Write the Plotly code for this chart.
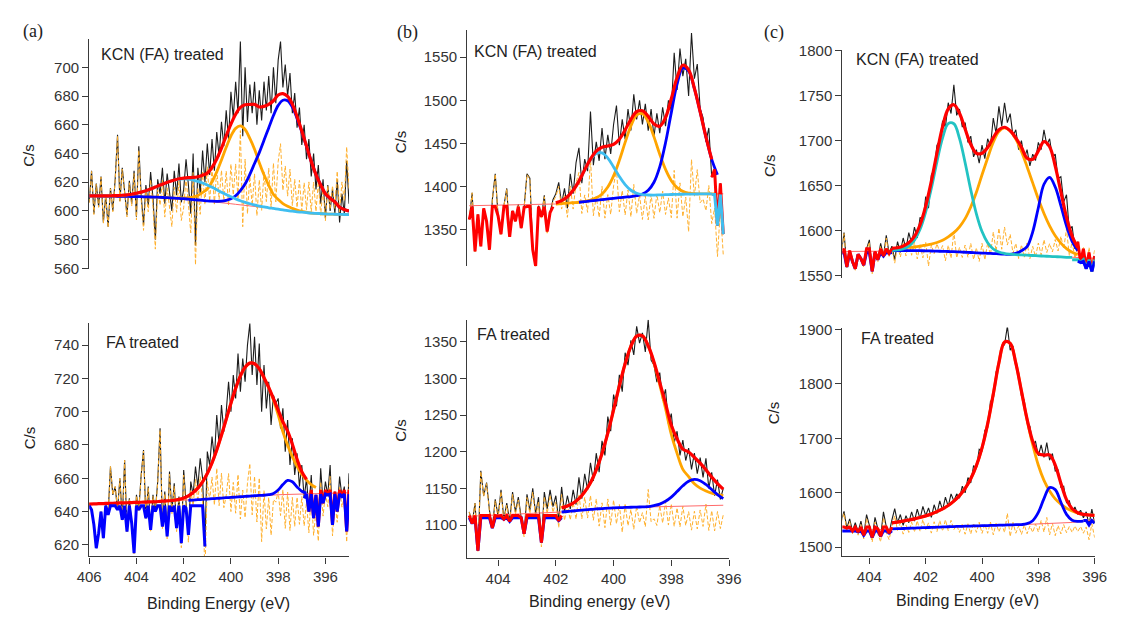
import numpy as np
import plotly.graph_objects as go

# ---------------------------------------------------------------
# N 1s spectra: raw counts (0.1 eV steps), fitted background and
# peak heights above background (0.2 eV steps)
# ---------------------------------------------------------------

# (a) KCN (FA) treated, 406 -> 395 eV
A1_counts = [606, 628, 598, 619, 603, 624, 592, 611, 589, 616,
             600, 622, 653, 607, 630, 612, 597, 621, 605, 628,
             596, 645, 611, 590, 618, 604, 627, 609, 580, 622,
             612, 630, 605, 626, 614, 600, 628, 611, 633, 606,
             615, 636, 618, 598, 640, 576, 630, 612, 642, 620,
             647, 625, 650, 628, 655, 638, 662, 645, 670, 650,
             683, 665, 690, 668, 718, 652, 700, 662, 688, 668,
             690, 660, 684, 663, 690, 670, 694, 668, 700, 675,
             705, 718, 686, 702, 680, 696, 668, 682, 658, 672,
             646, 660, 636, 650, 624, 640, 615, 632, 605, 622,
             595, 618, 600, 615, 598, 622, 592, 612, 598, 635,
             605]
A1_bg = [610.5, 610.5, 610.4, 610.4, 610.3, 610.3, 610.2, 610.2, 610.1, 610.0,
         610.0, 609.9, 609.8, 609.7, 609.6, 609.5, 609.3, 609.1, 608.9, 608.7,
         608.5, 608.2, 607.9, 607.6, 607.3, 607.0, 606.6, 606.2, 605.8, 605.4,
         605.0, 604.6, 604.2, 603.8, 603.4, 603.0, 602.6, 602.2, 601.8, 601.4,
         601.0, 600.6, 600.2, 599.8, 599.4, 599.1, 598.8, 598.5, 598.3, 598.1,
         597.9, 597.8, 597.7, 597.6, 597.5, 597.4]
A1_cyan = [0, 0, 0.1, 0.1, 0.2, 0.3, 0.5, 0.7, 1.1, 1.6,
           2.3, 3.2, 4.2, 5.5, 7.0, 8.5, 10.0, 11.4, 12.6, 13.5,
           13.9, 14.0, 13.6, 13.0, 12.1, 11.0, 9.8, 8.5, 7.2, 6.0,
           4.8, 3.8, 2.9, 2.2, 1.6, 1.2, 0.8, 0.6, 0.4, 0.3,
           0.2, 0.1, 0, 0, 0, 0, 0, 0, 0, 0,
           0, 0, 0, 0, 0, 0]
A1_orange = [0, 0, 0, 0, 0, 0, 0, 0, 0, 0,
             0, 0, 0, 0, 0, 0, 0, 0, 0, 0.2,
             0.5, 1.0, 1.8, 3.2, 5.5, 8.3, 13.7, 21.0, 29.7, 38.9,
             47.1, 52.9, 55.0, 52.9, 47.1, 40.0, 31.0, 23.0, 16.0, 10.0,
             7.0, 4.5, 3.0, 2.0, 1.2, 0.6, 0.3, 0, 0, 0,
             0, 0, 0, 0, 0, 0]
A1_blue = [0, 0, 0, 0, 0, 0, 0, 0, 0, 0,
           0, 0, 0, 0, 0, 0, 0, 0, 0, 0,
           0, 0, 0, 0, 0, 0, 0.2, 0.5, 1.0, 2.0,
           3.5, 6.0, 10.0, 15.0, 22.0, 30.0, 38.0, 47.0, 56.0, 65.0,
           72.5, 76.5, 76.5, 72.5, 65.0, 56.0, 46.0, 36.0, 27.0, 20.0,
           14.0, 11.0, 8.5, 5.0, 3.5, 2.5]
A1_zero = 610

# (a) FA treated, 406 -> 395 eV
A2_counts = [645, 641, 632, 618, 627, 640, 624, 645, 638, 667,
             650, 655, 641, 660, 635, 671, 628, 648, 633, 615,
             650, 641, 662, 677, 636, 655, 629, 650, 640, 658,
             690, 631, 652, 625, 664, 640, 657, 630, 649, 621,
             665, 642, 626, 658, 650, 667, 655, 672, 660, 619,
             676, 668, 685, 672, 698, 680, 704, 688, 700, 718,
             700, 722, 708, 735, 712, 732, 718, 740, 753, 722,
             745, 716, 741, 700, 728, 702, 718, 692, 710, 705,
             708, 690, 702, 676, 695, 668, 684, 662, 675, 655,
             668, 648, 660, 640, 662, 636, 650, 631, 666, 645,
             658, 650, 668, 632, 652, 640, 661, 649, 655, 628,
             663]
A2_bg = [644.5, 644.6, 644.7, 644.8, 644.9, 645.0, 645.1, 645.2, 645.3, 645.4,
         645.5, 645.6, 645.7, 645.8, 645.9, 646.0, 646.1, 646.2, 646.3, 646.4,
         646.5, 646.7, 646.9, 647.1, 647.3, 647.5, 647.7, 647.9, 648.1, 648.3,
         648.5, 648.7, 648.9, 649.1, 649.3, 649.5, 649.7, 649.8, 649.9, 650.0,
         650.1, 650.2, 650.3, 650.4, 650.5, 650.6, 650.7, 650.8, 650.9, 651.0,
         651.0, 651.1, 651.1, 651.2, 651.2, 651.3]
A2_orange = [0, 0, 0, 0, 0, 0, 0, 0, 0, 0,
             0, 0, 0, 0, 0, 0.1, 0.2, 0.3, 0.5, 0.9,
             1.6, 2.7, 4.5, 7.0, 10.6, 15.4, 21.6, 29.1, 37.8, 47.1,
             56.5, 65.3, 72.6, 77.6, 79.9, 79.3, 76.1, 70.6, 64.5, 57.0,
             48.0, 37.7, 29.6, 22.6, 16.6, 11.8, 8.2, 5.4, 3.5, 2.2,
             1.3, 0.8, 0.4, 0.2, 0.1, 0]
A2_blue = [0, 0, 0, 0, 0, 0, 0, 0, 0, 0,
           0, 0, 0, 0, 0, 0, 0, 0, 0, 0,
           0, 0, 0, 0, 0, 0, 0, 0, 0, 0,
           0, 0, 0, 0, 0, 0, 0, 0, 0.2, 0.8,
           2.8, 6.0, 8.4, 7.5, 4.3, 1.6, 0.4, 0, 0, 0,
           0, 0, 0, 0, 0, 0]
A2_zero = 645

# (b) KCN (FA) treated, 405.0 -> 396.2 eV
B1_counts = [1362, 1393, 1325, 1368, 1331, 1375, 1360, 1327, 1385, 1415,
             1366, 1345, 1378, 1398, 1342, 1372, 1360, 1380, 1352, 1376,
             1415, 1410, 1327, 1308, 1378, 1365, 1390, 1348, 1370, 1385,
             1392, 1405, 1380, 1398, 1375, 1415, 1392, 1428, 1445, 1404,
             1432, 1418, 1487, 1425, 1452, 1430, 1468, 1432, 1460, 1438,
             1472, 1494, 1448, 1478, 1455, 1490, 1465, 1507, 1478, 1500,
             1472, 1496, 1465, 1490, 1458, 1485, 1462, 1492, 1470, 1500,
             1488, 1555, 1512, 1560, 1528, 1548, 1505, 1578, 1525, 1542,
             1490, 1480, 1452, 1468, 1411, 1420, 1355, 1404, 1345]
B1_bg = [1378.0, 1378.1, 1378.2, 1378.3, 1378.4, 1378.5, 1378.6, 1378.7, 1378.8, 1378.9,
         1379.0, 1379.2, 1379.4, 1379.6, 1379.8, 1380.0, 1380.5, 1381.0, 1381.5, 1382.0,
         1382.8, 1383.5, 1384.3, 1385.0, 1385.8, 1386.5, 1387.3, 1388.0, 1388.5, 1389.0,
         1389.5, 1390.0, 1390.3, 1390.5, 1390.8, 1391.0, 1391.2, 1391.3, 1391.4, 1391.5,
         1391.6, 1391.7, 1391.7, 1391.8, 1391.8]
B1_cyan = [0, 0, 0, 0, 0, 0, 0, 0, 0, 0,
           0, 0, 0, 0, 0.2, 1.3, 3.4, 7.4, 14.4, 24.5,
           36.4, 47.4, 54.1, 54.1, 47.4, 36.4, 24.5, 14.4, 7.4, 3.4,
           1.3, 0.4, 0, 0, 0, 0, 0, 0, 0, 0,
           0, 0, 0, 0, 0]
B1_orange = [0, 0, 0, 0, 0, 0, 0, 0, 0, 0,
             0, 0, 0, 0, 0, 0, 0, 0, 0, 0,
             0.3, 1.0, 2.8, 6.6, 13.9, 26.1, 43.2, 63.3, 82.0, 93.9,
             95.1, 85.1, 67.4, 47.1, 29.2, 16.0, 7.7, 3.3, 1.2, 0.4,
             0, 0, 0, 0, 0]
B1_blue = [0, 0, 0, 0, 0, 0, 0, 0, 0, 0,
           0, 0, 0, 0, 0, 0, 0, 0, 0, 0,
           0, 0, 0, 0, 0, 0, 0, 0, 0, 0.6,
           2.0, 5.9, 14.9, 32.5, 60.1, 94.8, 127.5, 146.1, 142.6, 122.0,
           95.0, 66.0, 40.0, 22.0, 10.0]
B1_zero = 1378

# (b) FA treated, 405.0 -> 396.2 eV
B2_counts = [1118, 1102, 1130, 1065, 1174, 1140, 1158, 1120, 1096, 1135,
             1112, 1148, 1108, 1130, 1105, 1145, 1118, 1138, 1110, 1088,
             1142, 1120, 1150, 1115, 1138, 1076, 1145, 1122, 1148, 1125,
             1140, 1106, 1152, 1118, 1140, 1122, 1148, 1128, 1165, 1136,
             1170, 1148, 1185, 1160, 1198, 1172, 1215, 1195, 1248, 1228,
             1278, 1262, 1305, 1282, 1335, 1318, 1352, 1332, 1371, 1348,
             1362, 1336, 1380, 1325, 1318, 1295, 1308, 1270, 1285, 1238,
             1252, 1212, 1228, 1195, 1216, 1188, 1205, 1176, 1198, 1170,
             1192, 1165, 1191, 1150, 1172, 1140, 1162, 1135, 1150]
B2_bg = [1112.0, 1112.3, 1112.6, 1112.9, 1113.2, 1113.5, 1113.8, 1114.1, 1114.4, 1114.7,
         1115.0, 1115.4, 1115.8, 1116.2, 1116.6, 1117.0, 1117.8, 1118.5, 1119.2, 1120.0,
         1120.8, 1121.5, 1122.0, 1122.5, 1123.0, 1123.5, 1123.8, 1124.0, 1124.3, 1124.5,
         1124.8, 1125.0, 1125.1, 1125.3, 1125.5, 1125.6, 1125.7, 1125.9, 1126.0, 1126.2,
         1126.3, 1126.5, 1126.6, 1126.8, 1127.0]
B2_orange = [1.2, 1.3, 1.4, 1.5, 1.6, 1.7, 1.8, 1.9, 2.1, 2.3,
             2.4, 2.5, 2.7, 3.0, 3.6, 4.4, 5.6, 7.5, 10.8, 16.0,
             24.4, 36.2, 53.2, 75.2, 102.4, 133.5, 166.0, 196.0, 219.5, 233.3,
             233.3, 219.5, 196.0, 166.0, 133.5, 98.0, 72.0, 50.0, 40.0, 30.0,
             24.0, 20.0, 17.0, 15.0, 13.0]
B2_blue = [0, 0, 0, 0, 0, 0, 0, 0, 0, 0,
           0, 0, 0, 0, 0, 0, 0, 0, 0, 0,
           0, 0, 0, 0, 0, 0, 0, 0, 0, 0,
           0, 0, 1.4, 3.3, 6.9, 12.5, 19.9, 27.6, 33.7, 36.0,
           34.1, 28.8, 21.8, 14.8, 9.0]
B2_zero = 1113

# (c) KCN (FA) treated, 405 -> 396 eV
C1_counts = [1575, 1598, 1560, 1578, 1566, 1558, 1574, 1569, 1562, 1580,
             1590, 1555, 1577, 1568, 1586, 1572, 1595, 1575, 1583, 1568,
             1588, 1576, 1592, 1580, 1598, 1586, 1604, 1592, 1615, 1610,
             1638, 1625, 1662, 1668, 1695, 1700, 1722, 1715, 1742, 1730,
             1762, 1728, 1735, 1715, 1720, 1698, 1705, 1682, 1690, 1675,
             1695, 1680, 1702, 1694, 1725, 1708, 1738, 1716, 1742, 1720,
             1730, 1705, 1712, 1690, 1700, 1680, 1690, 1672, 1685, 1678,
             1698, 1690, 1712, 1695, 1702, 1682, 1685, 1658, 1660, 1632,
             1640, 1600, 1605, 1580, 1588, 1565, 1580, 1558, 1576, 1555,
             1572]
C1_bg = [1577.0, 1577.1, 1577.2, 1577.3, 1577.4, 1577.5, 1577.6, 1577.7, 1577.8, 1577.9,
         1578.0, 1578.0, 1578.0, 1578.0, 1577.9, 1577.8, 1577.6, 1577.4, 1577.2, 1577.0,
         1576.8, 1576.5, 1576.2, 1575.9, 1575.6, 1575.3, 1575.0, 1574.7, 1574.4, 1574.1,
         1573.8, 1573.5, 1573.2, 1572.9, 1572.6, 1572.2, 1571.9, 1571.6, 1571.3, 1571.0,
         1570.6, 1570.4, 1570.2, 1570.0, 1569.8, 1569.5]
C1_teal = [0, 0, 0, 0, 0, 0, 0, 0, 0, 0.2,
           0.7, 2.0, 5.1, 11.7, 23.8, 43.2, 69.5, 99.3, 126.0, 141.9,
           141.9, 126.0, 99.3, 69.5, 43.2, 23.8, 11.7, 5.1, 2.0, 0.7,
           0.2, 0, 0, 0, 0, 0, 0, 0, 0, 0,
           0, 0, 0, 0, 0, 0]
C1_orange = [1.0, 1.2, 1.4, 1.6, 1.8, 2.0, 2.1, 2.2, 2.3, 2.4,
             2.5, 3.0, 3.5, 4.0, 5.0, 6.3, 7.7, 9.6, 12.2, 16.2,
             21.1, 27.9, 37.3, 50.5, 67.1, 86.9, 105.7, 123.5, 135.7, 140.0,
             136.9, 128.1, 114.7, 98.2, 80.5, 63.0, 47.3, 33.9, 23.2, 15.3,
             9.6, 5.8, 3.4, 1.9, 1.0, 0.5]
C1_blue = [0, 0, 0, 0, 0, 0, 0, 0, 0, 0,
           0, 0, 0, 0, 0, 0, 0, 0, 0, 0,
           0, 0, 0, 0, 0, 0, 0, 0, 0, 0,
           0, 1.4, 4.7, 9.5, 26.2, 53.4, 79.7, 87.7, 77.2, 56.8,
           34.8, 17.9, 7.6, 2.7, 0.8, 0]
C1_zero = 1577

# (c) FA treated, 405 -> 396 eV
C2_counts = [1548, 1566, 1535, 1552, 1530, 1545, 1528, 1548, 1522, 1560,
             1540, 1518, 1555, 1534, 1520, 1565, 1538, 1526, 1550, 1571,
             1545, 1560, 1540, 1558, 1545, 1565, 1548, 1570, 1552, 1575,
             1558, 1572, 1555, 1578, 1562, 1585, 1568, 1592, 1575, 1598,
             1585, 1598, 1590, 1612, 1600, 1628, 1618, 1650, 1645, 1680,
             1676, 1715, 1720, 1768, 1772, 1822, 1835, 1868, 1872, 1906,
             1862, 1870, 1832, 1820, 1778, 1770, 1728, 1722, 1690, 1694,
             1668, 1688, 1665, 1692, 1660, 1672, 1640, 1642, 1610, 1612,
             1582, 1585, 1566, 1574, 1560, 1568, 1554, 1565, 1541, 1570,
             1544]
C2_bg = [1530.0, 1530.4, 1530.8, 1531.2, 1531.6, 1532.0, 1532.4, 1532.8, 1533.2, 1533.6,
         1534.0, 1534.4, 1534.8, 1535.2, 1535.6, 1536.0, 1536.4, 1536.8, 1537.2, 1537.6,
         1538.0, 1538.3, 1538.6, 1538.9, 1539.2, 1539.5, 1539.8, 1540.1, 1540.4, 1540.7,
         1541.0, 1541.3, 1541.6, 1541.9, 1542.2, 1542.5, 1542.9, 1543.3, 1543.7, 1544.1,
         1544.6, 1545.5, 1546.6, 1547.8, 1549.2, 1550.5]
C2_orange = [5.4, 5.8, 6.2, 6.7, 7.3, 7.9, 8.5, 9.3, 10.1, 11.1,
             12.2, 13.6, 15.1, 16.9, 19.0, 21.6, 24.7, 28.6, 33.2, 39.1,
             46.7, 56.5, 69.5, 86.9, 110.6, 143.0, 186.6, 241.2, 298.4, 336.2,
             333.4, 297.0, 245.0, 192.0, 146.0, 108.0, 80.0, 60.0, 45.0, 35.0,
             27.0, 21.0, 16.0, 12.5, 10.0, 8.0]
C2_blue = [0, 0, 0, 0, 0, 0, 0, 0, 0, 0,
           0, 0, 0, 0, 0, 0, 0, 0, 0, 0,
           0, 0, 0, 0, 0, 0, 0, 0, 0, 0,
           0, 0, 0, 1.3, 6.5, 21.5, 46.4, 66.1, 62.1, 38.5,
           15.7, 4.2, 0.8, 0, 0, 0]
C2_zero = 1532

# tick labels
A1_yticks = [560, 580, 600, 620, 640, 660, 680, 700]
A2_yticks = [620, 640, 660, 680, 700, 720, 740]
B1_yticks = [1350, 1400, 1450, 1500, 1550]
B2_yticks = [1100, 1150, 1200, 1250, 1300, 1350]
C1_yticks = [1550, 1600, 1650, 1700, 1750, 1800]
C2_yticks = [1500, 1600, 1700, 1800, 1900]
A_xticks = [406, 404, 402, 400, 398, 396]
B_xticks = [404, 402, 400, 398, 396]
C_xticks = [404, 402, 400, 398, 396]

# ---------------------------------------------------------------
W, H = 1123, 620
FONT = "Liberation Sans, Arial, sans-serif"
SERIF = "Liberation Serif, Times New Roman, serif"
RED, BLUE, ORANGE = "#ff0000", "#0000ff", "#ffa500"
SKY, TEAL = "#3fbef0", "#22c3c3"
BLACK, RESID, BGLINE, AXIS = "#1c1c1c", "#ffb02e", "#ff6a6a", "#3a3a3a"

fig = go.Figure()


def ax_name(n, letter):
    return letter if n == 1 else f"{letter}{n}"


def add(n, x, y, color, width, dash=None, shape="linear"):
    fig.add_trace(go.Scatter(
        x=x, y=y, mode="lines",
        line=dict(color=color, width=width, dash=dash, shape=shape),
        xaxis=ax_name(n, "x"), yaxis=ax_name(n, "y"),
        hoverinfo="skip", showlegend=False))


def window(e, hi, lo):
    return (e <= hi + 1e-6) & (e >= lo - 1e-6)


def panel(n, e_hi, e_lo, counts, bg, comps, env_span, zero, clips):
    counts = np.asarray(counts, float)
    bg = np.asarray(bg, float)
    e_raw = np.linspace(e_hi, e_lo, len(counts))
    e_fit = np.linspace(e_hi, e_lo, len(bg))
    heights = [np.asarray(h, float) for h, _, _ in comps]
    env = bg + np.sum(heights, axis=0)
    # fit envelope evaluated at each measured energy, for the residual
    env_at_raw = np.interp(e_raw[::-1], e_fit[::-1], env[::-1])[::-1]

    add(n, e_raw, counts, BLACK, 1.1)
    add(n, e_raw, counts - env_at_raw + zero, RESID, 1.0, dash="4px,2px")
    add(n, e_fit, bg, BGLINE, 1.0)
    for h, (_, color, span) in zip(heights, comps):
        m = window(e_fit, *span)
        add(n, e_fit[m], (bg + h)[m], color, 2.8, shape="spline")
    m = window(e_fit, *env_span)
    add(n, e_fit[m], env[m], RED, 3.2, shape="spline")
    for color, hi, lo, level in clips:
        m = window(e_raw, hi, lo)
        y = counts[m] if level is None else np.minimum(counts[m], level)
        add(n, e_raw[m], y, color, 3.0)


panel(1, 406.0, 395.0, A1_counts, A1_bg,
      [(A1_orange, ORANGE, (406.0, 395.0)),
       (A1_blue, BLUE, (406.0, 395.0)),
       (A1_cyan, SKY, (406.0, 395.0))],
      (406.0, 395.0), A1_zero, [])

panel(4, 406.0, 395.0, A2_counts, A2_bg,
      [(A2_orange, ORANGE, (402.6, 396.4)),
       (A2_blue, BLUE, (401.8, 396.8))],
      (406.0, 396.8), A2_zero,
      [(BLUE, 406.0, 401.1, 643.5),
       (RED, 396.7, 395.0, 653.0),
       (BLUE, 396.9, 395.0, 650.5)])

panel(2, 405.0, 396.2, B1_counts, B1_bg,
      [(B1_orange, ORANGE, (402.0, 396.4)),
       (B1_blue, BLUE, (401.2, 396.4)),
       (B1_cyan, SKY, (401.8, 396.6))],
      (402.0, 396.6), B1_zero,
      [(RED, 405.0, 402.1, 1377),
       (RED, 396.6, 396.2, None),
       (SKY, 396.6, 396.2, 1391)])

panel(5, 405.0, 396.2, B2_counts, B2_bg,
      [(B2_orange, ORANGE, (401.8, 396.2)),
       (B2_blue, BLUE, (401.8, 396.2))],
      (401.8, 396.2), B2_zero,
      [(BLUE, 405.0, 401.8, 1110),
       (RED, 405.0, 401.8, 1113)])

panel(3, 405.0, 396.0, C1_counts, C1_bg,
      [(C1_orange, ORANGE, (403.2, 396.6)),
       (C1_blue, BLUE, (403.2, 396.6)),
       (C1_teal, TEAL, (403.2, 396.8))],
      (403.2, 396.6), C1_zero,
      [(BLUE, 405.0, 403.2, 1576),
       (RED, 405.0, 403.2, 1580),
       (RED, 396.6, 396.0, None),
       (TEAL, 396.8, 396.0, 1568),
       (BLUE, 396.6, 396.0, 1566)])

panel(6, 405.0, 396.0, C2_counts, C2_bg,
      [(C2_orange, ORANGE, (403.2, 396.0)),
       (C2_blue, BLUE, (403.2, 396.4))],
      (403.2, 396.0), C2_zero,
      [(BLUE, 405.0, 403.2, 1530),
       (RED, 405.0, 403.2, 1537),
       (BLUE, 396.4, 396.0, 1549)])

# ---------------------------------------------------------------
# axes (pixel boxes converted to paper fractions)
col_px = {"a": (78, 344), "b": (465, 733), "c": (849, 1107.3)}
boxes = {
    1: ("a", (31.4, 268), (406.0, 395.0), (559.5, 720), A1_yticks, None),
    2: ("b", (23, 265), (405.07, 396.0), (1308, 1581), B1_yticks, None),
    3: ("c", (43, 277), (404.96, 396.0), (1547.8, 1800.6), C1_yticks, None),
    4: ("a", (323, 563), (406.0, 395.0), (613, 753.5), A2_yticks, A_xticks),
    5: ("b", (320, 565), (405.07, 396.0), (1054.5, 1380), B2_yticks, B_xticks),
    6: ("c", (328, 563), (404.96, 396.0), (1483, 1903.5), C2_yticks, C_xticks),
}

layout = dict(width=W, height=H, margin=dict(l=0, r=0, t=0, b=0),
              paper_bgcolor="white", plot_bgcolor="white", autosize=False,
              font=dict(family=FONT, color="#222"), showlegend=False)

for n, (col, (ytop, ybot), xr, yr, yt, xt) in boxes.items():
    x0, x1 = col_px[col]
    xdom = [x0 / W, x1 / W]
    ydom = [1 - ybot / H, 1 - ytop / H]
    xa = dict(domain=xdom, range=list(xr), anchor=ax_name(n, "y"),
              showgrid=False, zeroline=False)
    if xt is None:
        xa.update(visible=False)
    else:
        xa.update(showline=True, linecolor=AXIS, linewidth=1.2,
                  ticks="outside", ticklen=6, tickwidth=1.2, tickcolor=AXIS,
                  tickvals=xt, ticktext=[str(v) for v in xt],
                  tickfont=dict(family=FONT, size=15, color="#333"))
    ya = dict(domain=ydom, range=list(yr), anchor=ax_name(n, "x"),
              showgrid=False, zeroline=False, showline=True,
              linecolor=AXIS, linewidth=1.2, ticks="outside", ticklen=6,
              tickwidth=1.2, tickcolor=AXIS, tickvals=yt,
              ticktext=[str(v) for v in yt],
              tickfont=dict(family=FONT, size=15, color="#333"))
    layout["xaxis" if n == 1 else f"xaxis{n}"] = xa
    layout["yaxis" if n == 1 else f"yaxis{n}"] = ya


def note(text, px, py, size, family=FONT, angle=0, xanchor="center"):
    return dict(text=text, x=px / W, y=1 - py / H, xref="paper", yref="paper",
                showarrow=False, textangle=angle, xanchor=xanchor,
                yanchor="middle", font=dict(family=family, size=size, color="#222"))


ann = [
    note("(a)", 20, 24, 18, SERIF), note("(b)", 404, 25, 18, SERIF),
    note("(c)", 779, 25, 18, SERIF),
    note("KCN (FA) treated", 88, 48, 16, xanchor="left"),
    note("KCN (FA) treated", 470, 45, 16, xanchor="left"),
    note("KCN (FA) treated", 861, 53, 16, xanchor="left"),
    note("FA treated", 93, 343, 16, xanchor="left"),
    note("FA treated", 473, 335, 16, xanchor="left"),
    note("FA treated", 866, 339, 16, xanchor="left"),
    note("C/s", 15, 151, 15, angle=-90), note("C/s", 17, 441, 15, angle=-90),
    note("C/s", 397, 137, 15, angle=-90), note("C/s", 397, 433, 15, angle=-90),
    note("C/s", 775, 162, 15, angle=-90), note("C/s", 778, 415, 15, angle=-90),
    note("Binding Energy (eV)", 210, 611, 16),
    note("Binding energy (eV)", 600, 609, 16),
    note("Binding Energy (eV)", 977, 608, 16),
]
layout["annotations"] = ann
fig.update_layout(**layout)

fig.write_html("out.html")
